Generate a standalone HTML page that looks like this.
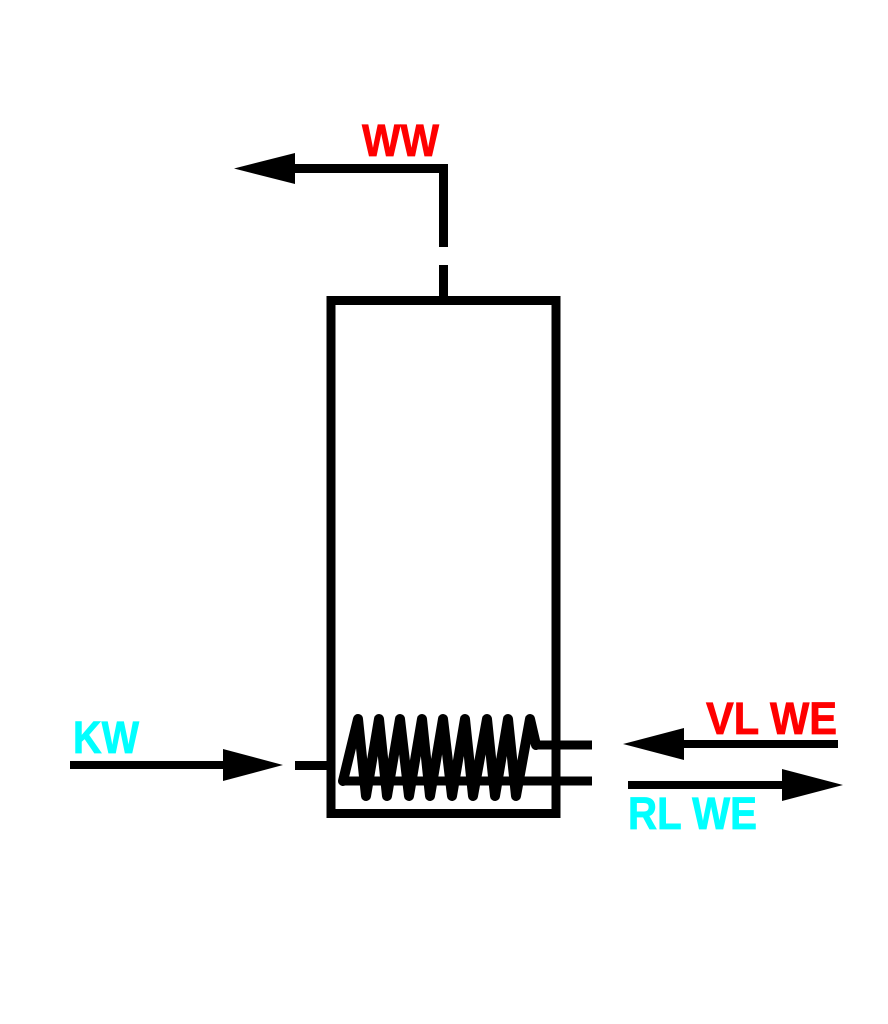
<!DOCTYPE html>
<html>
<head>
<meta charset="utf-8">
<style>
html,body{margin:0;padding:0;background:#fff;}
svg{display:block;}
text{font-family:"Liberation Sans",sans-serif;font-weight:bold;}
</style>
</head>
<body>
<svg width="888" height="1024" viewBox="0 0 888 1024" xmlns="http://www.w3.org/2000/svg">
<rect width="888" height="1024" fill="#fff"/>
<!-- Tank -->
<rect x="331" y="300.5" width="225" height="513" fill="none" stroke="#000" stroke-width="9"/>
<!-- WW pipe -->
<polyline points="290,168.5 443.5,168.5 443.5,247" fill="none" stroke="#000" stroke-width="9" stroke-linejoin="miter"/>
<line x1="443.5" y1="265" x2="443.5" y2="300" stroke="#000" stroke-width="9"/>
<polygon points="234,168.5 295,153 295,184" fill="#000"/>
<text x="362" y="156" font-size="45" fill="#ff0000" stroke="#ff0000" stroke-width="0.8" textLength="77" lengthAdjust="spacingAndGlyphs">WW</text>
<!-- KW -->
<line x1="70" y1="765" x2="226" y2="765" stroke="#000" stroke-width="8"/>
<polygon points="283,765 223,749 223,781" fill="#000"/>
<line x1="295" y1="765.5" x2="329" y2="765.5" stroke="#000" stroke-width="9"/>
<text x="73" y="753" font-size="45" fill="#00ffff" stroke="#00ffff" stroke-width="0.8" textLength="66" lengthAdjust="spacingAndGlyphs">KW</text>
<!-- Coil -->
<polyline points="343,781 358,719 366,796 379,719 387,796 400,719 409,796 422,719 430,796 443,719 452,796 465,719 473,796 487,719 495,796 508,719 516,796 530,719 536,745" fill="none" stroke="#000" stroke-width="10" stroke-linejoin="round" stroke-linecap="round"/>
<line x1="343" y1="781" x2="592" y2="781" stroke="#000" stroke-width="9"/>
<line x1="536" y1="745" x2="592" y2="745" stroke="#000" stroke-width="9"/>
<!-- VL WE -->
<line x1="680" y1="744" x2="838" y2="744" stroke="#000" stroke-width="8"/>
<polygon points="623,744 684,728 684,760" fill="#000"/>
<text x="706" y="734" font-size="45" fill="#ff0000" stroke="#ff0000" stroke-width="0.8" textLength="131" lengthAdjust="spacingAndGlyphs">VL WE</text>
<!-- RL WE -->
<line x1="628" y1="785" x2="786" y2="785" stroke="#000" stroke-width="8"/>
<polygon points="843,785 782,769 782,801" fill="#000"/>
<text x="628" y="829" font-size="45" fill="#00ffff" stroke="#00ffff" stroke-width="0.8" textLength="129" lengthAdjust="spacingAndGlyphs">RL WE</text>
</svg>
</body>
</html>
